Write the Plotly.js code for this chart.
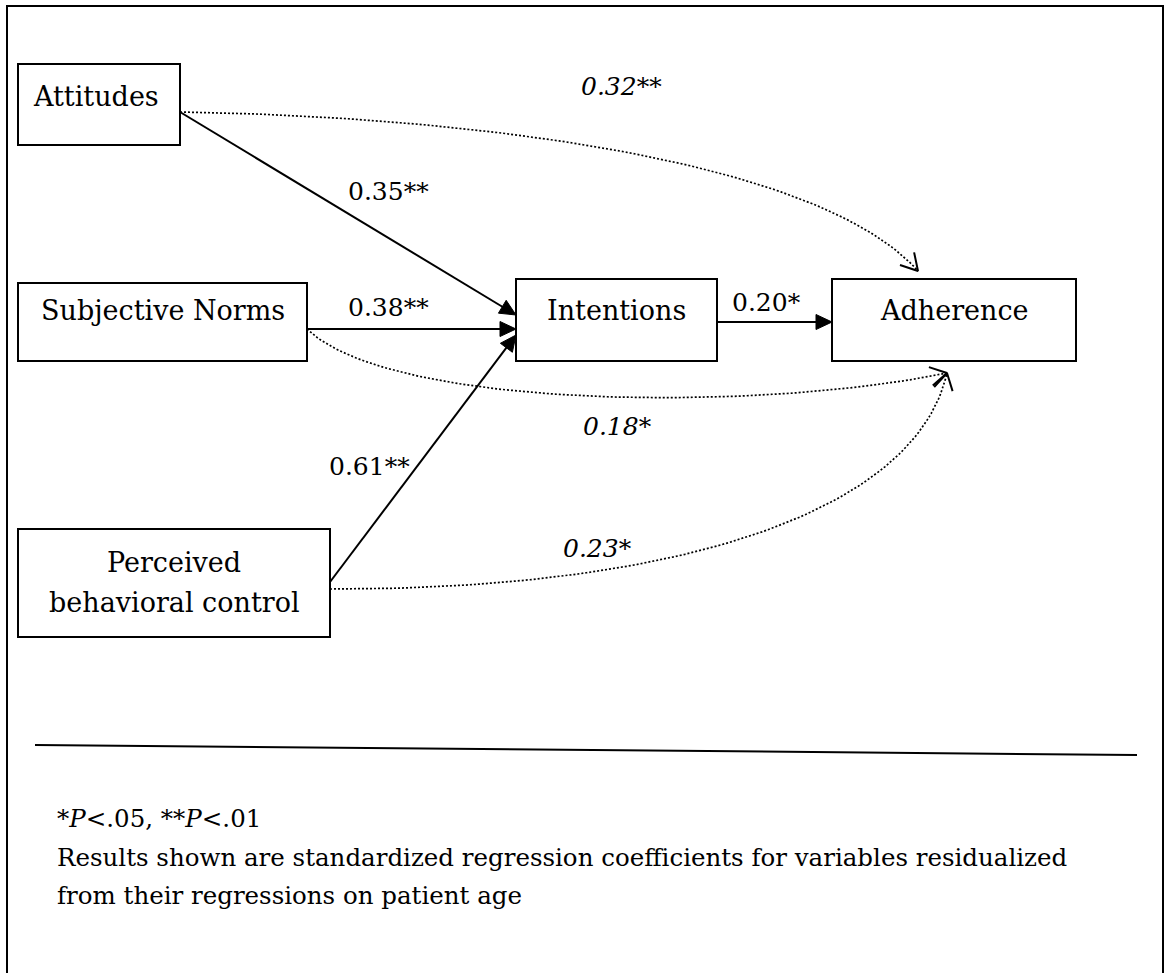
<!DOCTYPE html>
<html><head><meta charset="utf-8">
<script src="https://cdn.plot.ly/plotly-3.0.1.min.js"></script>
<style>html,body{margin:0;padding:0;background:#fff;}#chart{width:1166px;height:973px;}</style>
</head><body><div id="chart"></div>
<script>
// ---------------- data ----------------
const constructs = ['Attitudes', 'Subjective Norms', 'Perceived behavioral control', 'Intentions', 'Adherence'];
const constructLines = [['Attitudes'], ['Subjective Norms'], ['Perceived', 'behavioral control'], ['Intentions'], ['Adherence']];
const pathFrom = ['Attitudes', 'Subjective Norms', 'Perceived behavioral control', 'Intentions', 'Attitudes', 'Subjective Norms', 'Perceived behavioral control'];
const pathTo = ['Intentions', 'Intentions', 'Intentions', 'Adherence', 'Adherence', 'Adherence', 'Adherence'];
const pathCoef = [0.35, 0.38, 0.61, 0.20, 0.32, 0.18, 0.23];
const pathSig = ['**', '**', '**', '*', '**', '*', '*'];
const pathDirect = [true, true, true, true, false, false, false];
const footnoteLines = ['*<i>P</i>&lt;.05, **<i>P</i>&lt;.01',
  'Results shown are standardized regression coefficients for variables residualized',
  'from their regressions on patient age'];

// ---------------- layout geometry (pixels of the 1166x973 canvas) ----------------
const boxGeom = {
  'Attitudes': {x0: 18, x1: 180, y0: 64, y1: 145, lx: 31, ly: [96], anchor: 'left'},
  'Subjective Norms': {x0: 18, x1: 307, y0: 283, y1: 361, lx: 162.5, ly: [310], anchor: 'center'},
  'Perceived behavioral control': {x0: 18, x1: 330, y0: 529, y1: 637, lx: 174, ly: [562, 602], anchor: 'center'},
  'Intentions': {x0: 516, x1: 717, y0: 279, y1: 361, lx: 616.5, ly: [310], anchor: 'center'},
  'Adherence': {x0: 832, x1: 1076, y0: 279, y1: 361, lx: 954, ly: [310], anchor: 'center'}
};
// start, (control1, control2,) end, label position
const edgeGeom = [
  {p0: [180, 112], p3: [516, 315], lab: [388, 191]},
  {p0: [307, 329], p3: [516, 329], lab: [388, 307]},
  {p0: [330, 582], p3: [516, 335], lab: [369, 466]},
  {p0: [717, 322], p3: [832, 322], lab: [766, 302]},
  {p0: [180, 112], p1: [450, 116], p2: [815, 155], p3: [918, 271], lab: [621, 86]},
  {p0: [307, 329], p1: [390, 410], p2: [760, 412], p3: [947, 373], lab: [617, 426]},
  {p0: [330, 589], p1: [670, 590], p2: [915, 515], p3: [947, 373], lab: [597, 548]}
];
const W = 1166, H = 973;
const FONT = 'DejaVu Serif';

// ---------------- build ----------------
const traces = [];
const shapes = [];
const annotations = [];

// outer frame
shapes.push({type: 'rect', xref: 'x', yref: 'y', x0: 7, x1: 1163, y0: 6, y1: 1000,
  line: {color: '#000', width: 2}, fillcolor: 'rgba(0,0,0,0)'});

constructs.forEach((c, i) => {
  const g = boxGeom[c];
  shapes.push({type: 'rect', xref: 'x', yref: 'y', x0: g.x0, x1: g.x1, y0: g.y0, y1: g.y1,
    line: {color: '#000', width: 2}, fillcolor: 'rgba(0,0,0,0)'});
  constructLines[i].forEach((t, k) => {
    annotations.push({x: g.lx, y: g.ly[k], xref: 'x', yref: 'y', text: t, showarrow: false,
      xanchor: g.anchor, yanchor: 'middle', font: {family: FONT, size: 27, color: '#000'}});
  });
});

function bez(e, t) {
  const u = 1 - t;
  const a = u * u * u, b = 3 * t * u * u, c = 3 * t * t * u, d = t * t * t;
  return [a * e.p0[0] + b * e.p1[0] + c * e.p2[0] + d * e.p3[0],
          a * e.p0[1] + b * e.p1[1] + c * e.p2[1] + d * e.p3[1]];
}
function rot(v, ang) {
  const c = Math.cos(ang), s = Math.sin(ang);
  return [v[0] * c - v[1] * s, v[0] * s + v[1] * c];
}

pathFrom.forEach((from, i) => {
  const e = edgeGeom[i];
  const label = pathCoef[i].toFixed(2) + pathSig[i];
  if (pathDirect[i]) {
    const dx = e.p3[0] - e.p0[0], dy = e.p3[1] - e.p0[1];
    const L = Math.hypot(dx, dy), ux = dx / L, uy = dy / L;
    const hl = 16, hw = 7.5;
    const bx = e.p3[0] - ux * hl, by = e.p3[1] - uy * hl;
    traces.push({x: [e.p0[0], bx + ux * 2], y: [e.p0[1], by + uy * 2], mode: 'lines',
      line: {color: '#000', width: 2}, hoverinfo: 'skip'});
    traces.push({x: [e.p3[0], bx - uy * hw, bx + uy * hw, e.p3[0]],
      y: [e.p3[1], by + ux * hw, by - ux * hw, e.p3[1]], mode: 'lines', fill: 'toself',
      fillcolor: '#000', line: {color: '#000', width: 1}, hoverinfo: 'skip'});
    annotations.push({x: e.lab[0], y: e.lab[1], xref: 'x', yref: 'y', text: label, showarrow: false,
      xanchor: 'center', yanchor: 'middle', font: {family: FONT, size: 25, color: '#000'}});
  } else {
    const xs = [], ys = [];
    for (let k = 0; k <= 80; k++) { const p = bez(e, k / 80); xs.push(p[0]); ys.push(p[1]); }
    traces.push({x: xs, y: ys, mode: 'lines', line: {color: '#000', width: 1.7, dash: '2px,2px'},
      hoverinfo: 'skip'});
    const tx = e.p3[0] - e.p2[0], ty = e.p3[1] - e.p2[1];
    const tl = Math.hypot(tx, ty);
    const back = [-tx / tl * 19, -ty / tl * 19];
    const a1 = rot(back, 0.52), a2 = rot(back, -0.52);
    traces.push({x: [e.p3[0] + a1[0], e.p3[0], e.p3[0] + a2[0]],
      y: [e.p3[1] + a1[1], e.p3[1], e.p3[1] + a2[1]], mode: 'lines',
      line: {color: '#000', width: 2}, hoverinfo: 'skip'});
    annotations.push({x: e.lab[0], y: e.lab[1], xref: 'x', yref: 'y', text: '<i>' + label + '</i>',
      showarrow: false, xanchor: 'center', yanchor: 'middle', font: {family: FONT, size: 25, color: '#000'}});
  }
});

// footnote rule and text
shapes.push({type: 'line', xref: 'x', yref: 'y', x0: 35, y0: 745, x1: 1137, y1: 755,
  line: {color: '#000', width: 2}});
const footY = [818, 857, 895];
footnoteLines.forEach((t, k) => {
  annotations.push({x: 55, y: footY[k], xref: 'x', yref: 'y', text: t, showarrow: false,
    xanchor: 'left', yanchor: 'middle', font: {family: FONT, size: 24.5, color: '#000'}});
});

const layout = {
  width: W, height: H, margin: {l: 0, r: 0, t: 0, b: 0},
  paper_bgcolor: '#fff', plot_bgcolor: '#fff', showlegend: false,
  xaxis: {range: [0, W], visible: false, fixedrange: true},
  yaxis: {range: [H, 0], visible: false, fixedrange: true},
  shapes: shapes, annotations: annotations
};
Plotly.newPlot('chart', traces, layout, {staticPlot: true, displayModeBar: false});
</script>
</body></html>
